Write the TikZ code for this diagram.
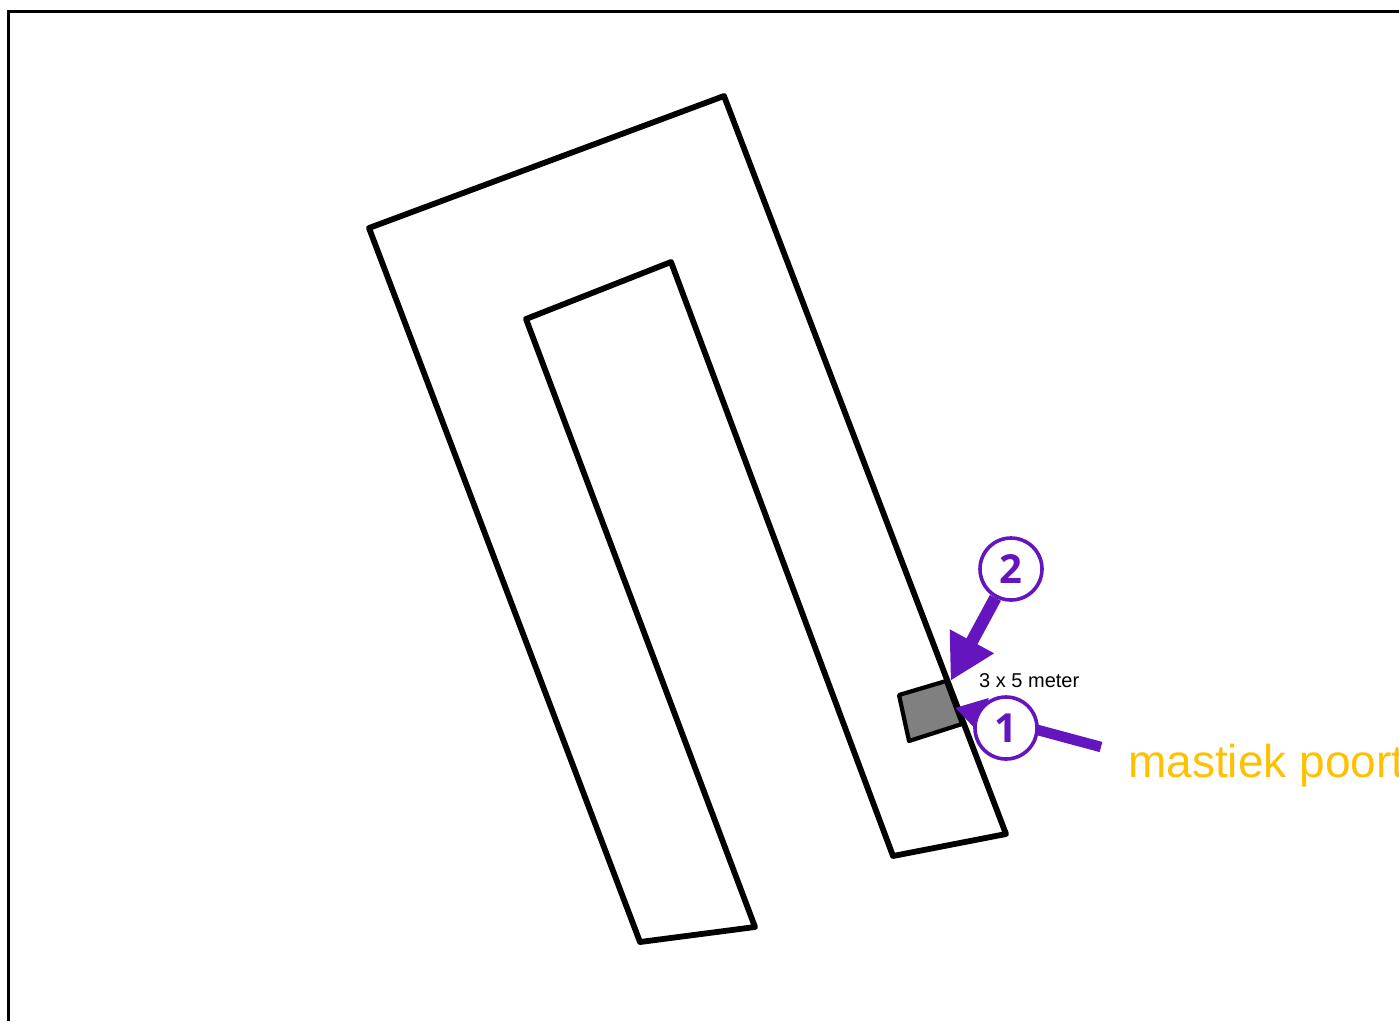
\documentclass[tikz,border=0pt]{standalone}
\usepackage{fontspec}
\setmainfont{Liberation Sans}
\newfontfamily\digitfont{Open Sans}
\usetikzlibrary{arrows.meta}
\definecolor{markpurple}{HTML}{6415BD}
\definecolor{labelyellow}{HTML}{FFC000}
\begin{document}
\begin{tikzpicture}[
  x=1pt, y=-1pt,
  frameline/.style={draw, line width=3pt},
  building/.style={draw, line width=5.8pt, line join=round},
  gate/.style={draw, fill=black!50, line width=4.2pt, line join=round},
  marker/.style={circle, draw=markpurple, fill=white, line width=3.6pt, inner sep=0pt, minimum size=62pt, text=markpurple, font=\digitfont\bfseries\fontsize{40}{40}\selectfont},
  pointer/.style={draw=markpurple, line width=12.5pt, -{Triangle[length=45pt, width=47pt, fill=markpurple]}, shorten >=-1pt}
]
  \useasboundingbox (0, 0) rectangle (1399, 1021);

  % Frame
  \draw[frameline] (8, 1021) -- (8, 11) -- (1399, 11);

  % Building
  \draw[building] (369, 228) -- (724, 96) -- (1006, 834) -- (893, 856) -- (671, 262)
    -- (526, 319) -- (755, 927) -- (640, 942) -- cycle;

  % Gate
  \draw[gate] (899, 695) -- (946, 681) -- (962, 724) -- (909, 741) -- cycle;

  % Marker 1
  \coordinate (tail1) at (1101, 747);
  \coordinate (tip1) at (956, 708);
  \draw[pointer, line width=10.5pt, -{Triangle[length=30pt, width=34pt, fill=markpurple]}] (tail1) -- (tip1);
  \node[marker] (num1) at (1006, 728) {1};

  % Marker 2
  \node[marker] (num2) at (1011, 569) {2};
  \coordinate (tip2) at (951, 680);
  \draw[pointer] (num2) -- (tip2);

  % Labels
  \node[anchor=west, inner sep=0pt, font=\fontsize{20}{20}\selectfont] (size) at (979, 681) {3 x 5 meter};
  \node[anchor=west, inner sep=0pt, text=labelyellow, font=\fontsize{46}{46}\selectfont] (poort) at (1128, 766) {mastiek poort};
\end{tikzpicture}
\end{document}
